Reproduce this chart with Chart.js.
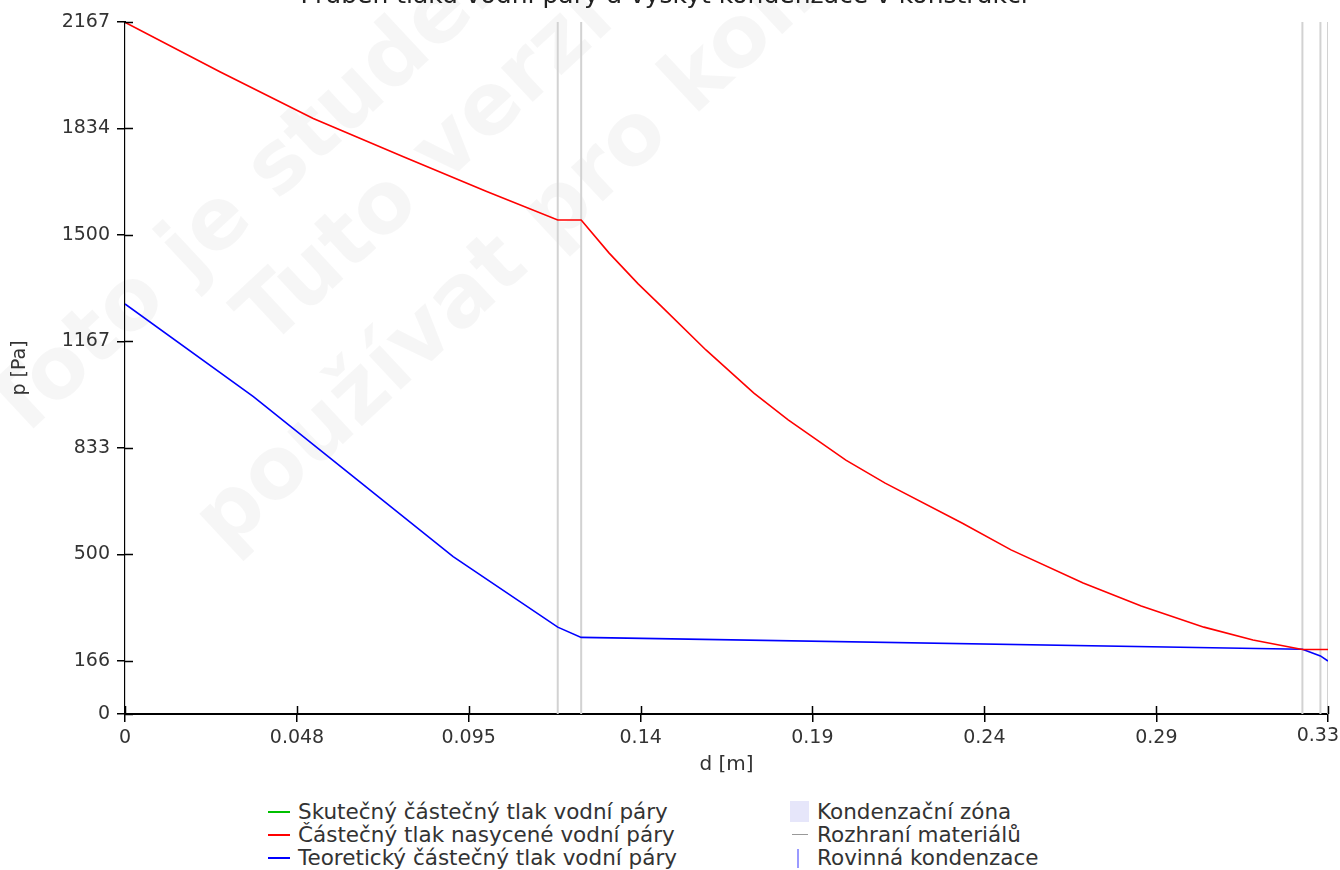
<!DOCTYPE html>
<html>
<head>
<meta charset="utf-8">
<script src="https://cdn.jsdelivr.net/npm/chart.js@4/dist/chart.umd.min.js"></script>
<style>
  body { margin: 0; background: #fff; }
  #wrap { position: relative; width: 1340px; height: 870px; overflow: hidden; font-family: "DejaVu Sans", sans-serif; }
  #chart { position: absolute; left: 0; top: -19px; }
  .leg { position: absolute; font-size: 21.5px; color: #333; line-height: 23px; white-space: nowrap; }
  .row { position: relative; height: 23px; }
  .mk { position: absolute; }
</style>
</head>
<body>
<div id="wrap">
  <canvas id="chart" width="1340" height="809"></canvas>
  <div class="leg" style="left:268px; top:800px;">
    <div class="row"><span class="mk" style="left:0; top:11px; width:22px; height:2px; background:#00c000;"></span><span style="padding-left:30px;">Skutečný částečný tlak vodní páry</span></div>
    <div class="row"><span class="mk" style="left:0; top:11px; width:22px; height:2px; background:#ff0000;"></span><span style="padding-left:30px;">Částečný tlak nasycené vodní páry</span></div>
    <div class="row"><span class="mk" style="left:0; top:11px; width:22px; height:2px; background:#0000ff;"></span><span style="padding-left:30px;">Teoretický částečný tlak vodní páry</span></div>
  </div>
  <div class="leg" style="left:790px; top:800px;">
    <div class="row"><span class="mk" style="left:0; top:1px; width:19px; height:21px; background:#e6e6fa;"></span><span style="padding-left:27px;">Kondenzační zóna</span></div>
    <div class="row"><span class="mk" style="left:2px; top:11px; width:16px; height:1px; background:#999;"></span><span style="padding-left:27px;">Rozhraní materiálů</span></div>
    <div class="row"><span class="mk" style="left:7px; top:3px; width:2px; height:19px; background:#9a9aff;"></span><span style="padding-left:27px;">Rovinná kondenzace</span></div>
  </div>
</div>
<script>
'use strict';

// tick positions
const xTickValues = [0, 0.0477, 0.0953, 0.1430, 0.1906, 0.2383, 0.2860, 0.3336];
const xTickLabels = ['0', '0.048', '0.095', '0.14', '0.19', '0.24', '0.29', '0.33'];
const yTickValues = [0, 166, 500, 833, 1167, 1500, 1834, 2167];

// material interfaces [m]
const interfaces = [0, 0.12, 0.1265, 0.3265, 0.3315, 0.3336];

// saturated vapour pressure
const satX = [0, 0.0263, 0.0522, 0.0772, 0.1003, 0.12, 0.1265, 0.1342, 0.1423, 0.1489, 0.1611, 0.1744, 0.1839, 0.1999, 0.2108, 0.2321, 0.2457, 0.2657, 0.2818, 0.2992, 0.3128, 0.3265, 0.3336];
const satP = [2166, 2011, 1865, 1745, 1636, 1547, 1547, 1444, 1347, 1275, 1140, 1005, 921, 795, 723, 598, 514, 410, 338, 272, 232, 202, 202];

// theoretical partial vapour pressure
const theoX = [0, 0.0356, 0.0633, 0.0910, 0.12, 0.1265, 0.3265, 0.3315, 0.3336];
const theoP = [1284, 994, 743, 493, 272, 240, 203, 182, 166];

// actual partial pressure (no separate curve visible)
const realX = [];
const realP = [];

const font = 'DejaVu Sans';

function toPoints(xs, ys) {
  return xs.map((x, i) => ({x: x, y: ys[i]}));
}

let datasets = [
  {label: 'Skutečný částečný tlak vodní páry', data: toPoints(realX, realP), borderColor: '#00c000', borderWidth: 1.6},
  {label: 'Částečný tlak nasycené vodní páry', data: toPoints(satX, satP), borderColor: '#ff0000', borderWidth: 1.6},
  {label: 'Teoretický částečný tlak vodní páry', data: toPoints(theoX, theoP), borderColor: '#0000ff', borderWidth: 1.6}
];
for (let i = 0; i < interfaces.length; i++) {
  datasets.push({
    label: 'Rozhraní materiálů',
    data: [{x: interfaces[i], y: 0}, {x: interfaces[i], y: 2167}],
    borderColor: '#d2d2d2',
    borderWidth: 2
  });
}

// faint "student version" text behind the plot (canvas coords = page y + 19)
const watermark = {
  id: 'watermark',
  beforeDraw(chart) {
    const ctx = chart.ctx;
    const lines = [
      ['Toto je studentská verze.', 18, 462],
      ['Tuto verzi nelze', 268, 368],
      ['používat pro komerční účely.', 226, 572]
    ];
    ctx.save();
    ctx.fillStyle = 'rgba(0,0,0,0.035)';
    ctx.font = 'bold 86px "DejaVu Sans"';
    ctx.textBaseline = 'alphabetic';
    for (let l of lines) {
      ctx.save();
      ctx.translate(l[1], l[2]);
      ctx.rotate(-43 * Math.PI / 180);
      ctx.fillText(l[0], 0, 0);
      ctx.restore();
    }
    ctx.restore();
  }
};

// tick marks crossing into the plot + last x label kept inside the canvas
const innerTicks = {
  id: 'innerTicks',
  afterDraw(chart) {
    const ctx = chart.ctx;
    const area = chart.chartArea;
    const xs = chart.scales.x;
    const ys = chart.scales.y;
    ctx.save();
    ctx.strokeStyle = '#000';
    ctx.lineWidth = 1.5;
    ctx.beginPath();
    for (let t of xs.ticks) {
      const px = Math.round(xs.getPixelForValue(t.value)) + 0.5;
      ctx.moveTo(px, area.bottom);
      ctx.lineTo(px, area.bottom - 8);
    }
    for (let t of ys.ticks) {
      const py = Math.round(ys.getPixelForValue(t.value)) + 0.5;
      ctx.moveTo(area.left, py);
      ctx.lineTo(area.left + 8, py);
    }
    ctx.stroke();

    const last = xTickLabels.length - 1;
    ctx.font = '19px "DejaVu Sans"';
    ctx.fillStyle = '#333';
    ctx.textAlign = 'right';
    ctx.textBaseline = 'top';
    const lx = Math.min(xs.getPixelForValue(xTickValues[last]) + ctx.measureText(xTickLabels[last]).width / 2, chart.width - 1);
    ctx.fillText(xTickLabels[last], lx, area.bottom + 8 + 5);
    ctx.restore();
  }
};

const ctx = document.getElementById('chart').getContext('2d');
const myChart = new Chart(ctx, {
  type: 'line',
  data: {datasets: datasets},
  options: {
    responsive: false,
    animation: false,
    events: [],
    layout: {padding: {left: 0, right: 12, top: 0, bottom: 0}},
    elements: {
      point: {radius: 0},
      line: {tension: 0, fill: false}
    },
    plugins: {
      legend: {display: false},
      tooltip: {enabled: false},
      title: {
        display: true,
        text: 'Průběh tlaku vodní páry a výskyt kondenzace v konstrukci',
        color: '#222',
        font: {family: font, size: 25, weight: 'normal'},
        padding: {top: 0, bottom: 11}
      }
    },
    scales: {
      x: {
        type: 'linear',
        min: 0,
        max: 0.3336,
        afterBuildTicks: (scale) => { scale.ticks = xTickValues.map(v => ({value: v})); },
        afterFit: (scale) => { scale.height = 76; scale.paddingLeft = 0; scale.paddingRight = 0; },
        ticks: {
          autoSkip: false,
          maxRotation: 0,
          color: '#333',
          padding: 5,
          font: {family: font, size: 19},
          callback: (v, i) => (i === xTickLabels.length - 1 ? '' : xTickLabels[i])
        },
        grid: {drawOnChartArea: false, color: '#000', lineWidth: 1.5, tickLength: 8},
        border: {color: '#000', width: 2},
        title: {display: true, text: 'd [m]', color: '#333', font: {family: font, size: 20}, padding: {top: 0, bottom: 13}}
      },
      y: {
        min: 0,
        max: 2167,
        afterBuildTicks: (scale) => { scale.ticks = yTickValues.map(v => ({value: v})); },
        afterFit: (scale) => { scale.width = 125; },
        ticks: {
          autoSkip: false,
          color: '#333',
          padding: 7,
          font: {family: font, size: 19},
          callback: (v) => String(v)
        },
        grid: {drawOnChartArea: false, color: '#000', lineWidth: 1.5, tickLength: 8},
        border: {color: '#000', width: 2},
        title: {display: true, text: 'p [Pa]', color: '#333', font: {family: font, size: 19}, padding: {top: 9, bottom: 0}}
      }
    }
  },
  plugins: [watermark, innerTicks]
});
</script>
</body>
</html>
